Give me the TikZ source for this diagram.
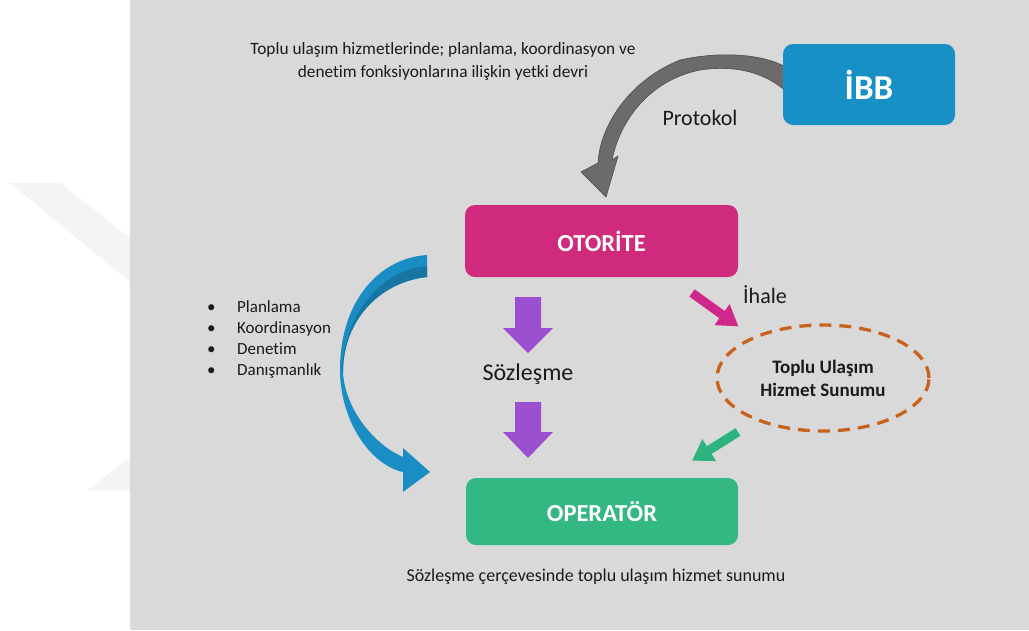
\documentclass[tikz,border=0pt]{standalone}
\usepackage{fontspec}
\setmainfont{Carlito}[Ligatures=NoCommon]
\usetikzlibrary{shapes.geometric}
\definecolor{bggray}{HTML}{D9D9D9}
\definecolor{wmgray}{HTML}{F4F4F4}
\definecolor{ibbblue}{HTML}{1790C6}
\definecolor{otomag}{HTML}{CF2A7B}
\definecolor{opgreen}{HTML}{33B884}
\definecolor{arrgray}{HTML}{6C6A6A}
\definecolor{arredge}{HTML}{4E4C4C}
\definecolor{ribbon}{HTML}{1A8EC4}
\definecolor{ribbondark}{HTML}{1675A3}
\definecolor{purplearr}{HTML}{9B50D0}
\definecolor{magarr}{HTML}{D0288A}
\definecolor{greenarr}{HTML}{2DB47E}
\definecolor{dashorange}{HTML}{C8621E}
\definecolor{txt}{HTML}{1A1A1A}
\tikzset{
  colorbox/.style={rounded corners=10pt, inner sep=0pt, text=white, font=\bfseries\fontsize{24.5}{28}\selectfont},
  plaintext/.style={text=txt, inner sep=0pt},
}
\begin{document}
\begin{tikzpicture}[x=1pt,y=-1pt]
\useasboundingbox (0,0) rectangle (1029,630);
\fill[white] (0,0) rectangle (1029,630);
% faint watermark bands on the white margin
\fill[wmgray] (10,183) -- (60,183) -- (130,238) -- (130,282) -- cycle;
\fill[wmgray] (88,490) -- (130,457) -- (130,490) -- cycle;
% slide background
\fill[bggray] (130,0) rectangle (1029,630);

% curved protocol arrow (drawn before the boxes)
\fill[arrgray, draw=arredge, line width=0.6pt]
  (790,70) .. controls (770,55) and (725,50) .. (680,60)
  .. controls (630,80) and (600,125) .. (598,163)
  -- (581,172) -- (606,197) -- (618,156) -- (612,160)
  .. controls (620,120) and (650,80) .. (700,70)
  .. controls (740,64) and (770,75) .. (790,95) -- cycle;

% boxes
\node[colorbox, fill=ibbblue, minimum width=172pt, minimum height=81pt, font=\bfseries\fontsize{35}{38}\selectfont] (ibb) at (869,84.5) {İBB};
\node[colorbox, fill=otomag, minimum width=273pt, minimum height=72pt] (oto) at (601.5,241) {OTORİTE};
\node[colorbox, fill=opgreen, minimum width=272pt, minimum height=67pt] (op) at (602,511.5) {OPERATÖR};

% texts
\node[plaintext, align=center, font=\fontsize{17.3}{23}\selectfont] (devri) at (443,61.5)
  {Toplu ulaşım hizmetlerinde; planlama, koordinasyon ve\\denetim fonksiyonlarına ilişkin yetki devri};
\node[plaintext, font=\fontsize{22}{24}\selectfont] (prot) at (700,118) {Protokol};
\node[plaintext, anchor=west, align=left, font=\fontsize{17}{21}\selectfont] (gorev) at (207,339.5)
  {\makebox[30pt][l]{\textbullet}Planlama\\
   \makebox[30pt][l]{\textbullet}Koordinasyon\\
   \makebox[30pt][l]{\textbullet}Denetim\\
   \makebox[30pt][l]{\textbullet}Danışmanlık};
\node[plaintext, font=\fontsize{24}{26}\selectfont] (soz) at (528,374) {Sözleşme};
\node[plaintext, font=\fontsize{22}{24}\selectfont] (ihale) at (765,295) {İhale};
\node[ellipse, draw=dashorange, line width=3.3pt, dash pattern=on 12pt off 8pt,
      minimum width=212pt, minimum height=106pt, inner sep=0pt, align=center,
      text=txt, font=\bfseries\fontsize{19}{23}\selectfont] (hizmet) at (823,378)
  {Toplu Ulaşım\\Hizmet Sunumu};
\node[plaintext, font=\fontsize{18}{20}\selectfont] (alt) at (596,577)
  {Sözleşme çerçevesinde toplu ulaşım hizmet sunumu};

% curved blue ribbon arrow
\fill[ribbon]
  (427,255) .. controls (380,258) and (340,300) .. (340,370)
  .. controls (340,420) and (370,465) .. (403,472)
  -- (403,492) -- (430,472) -- (403,448) -- (403,457)
  .. controls (375,445) and (345,410) .. (343,372)
  .. controls (343,320) and (380,282) .. (427,277) -- cycle;
\fill[ribbondark]
  (427,266) .. controls (382,270) and (346,312) .. (342,368)
  -- (343,372) .. controls (343,320) and (380,282) .. (427,277) -- cycle;

% straight contract arrows
\fill[purplearr] (515,297) -- (541,297) -- (541,328) -- (553,328) -- (528,353) -- (503,328) -- (515,328) -- cycle;
\fill[purplearr] (515,402) -- (541,402) -- (541,432) -- (553,432) -- (528,458) -- (503,432) -- (515,432) -- cycle;

% tender arrow and service arrow
\begin{scope}[shift={(692,293)}, rotate=-35.7]
  \fill[magarr] (0,-4.5) -- (37,-4.5) -- (37,-13) -- (57,0) -- (37,13) -- (37,4.5) -- (0,4.5) -- cycle;
\end{scope}
\begin{scope}[shift={(738,432)}, rotate=-148]
  \fill[greenarr] (0,-4.5) -- (34,-4.5) -- (34,-13) -- (54,0) -- (34,13) -- (34,4.5) -- (0,4.5) -- cycle;
\end{scope}
\end{tikzpicture}
\end{document}
